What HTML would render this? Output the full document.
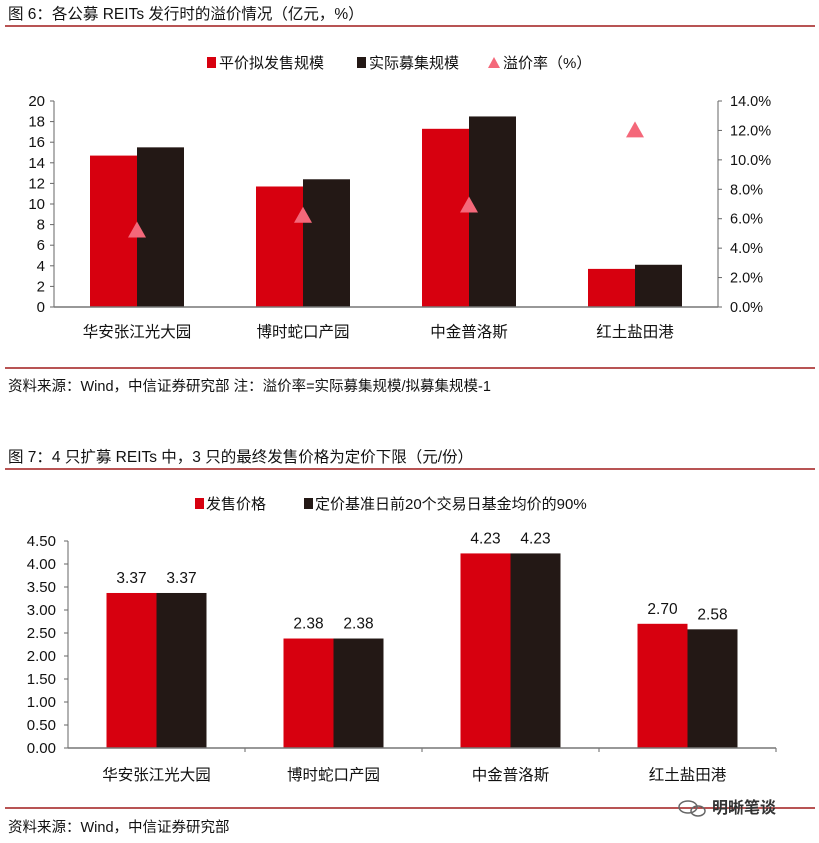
<!DOCTYPE html>
<html><head><meta charset="utf-8"><style>
body{margin:0;background:#fff;width:819px;height:843px;overflow:hidden;font-family:"Liberation Sans","Noto Sans CJK SC",sans-serif;}
svg{position:absolute;left:0;top:0;}
text{font-family:"Liberation Sans","Noto Sans CJK SC",sans-serif;fill:#111;}
</style></head><body>
<svg id="s" width="819" height="843">
<text x="8" y="19" font-size="15.5">图 6：各公募 REITs 发行时的溢价情况（亿元，%）</text>
<line x1="5" y1="26" x2="815" y2="26" stroke="#a01c1c" stroke-width="1.5"/>
<g>
<rect x="207" y="57" width="9" height="11" fill="#d7000f"/><text x="219" y="68" font-size="15">平价拟发售规模</text>
<rect x="357" y="57" width="9" height="11" fill="#231815"/><text x="369" y="68" font-size="15">实际募集规模</text>
<polygon points="494,57 500,68 488,68" fill="#f4687a"/><text x="503" y="68" font-size="15">溢价率（%）</text>
</g>
<g id="c1"></g>
<line x1="5" y1="368" x2="815" y2="368" stroke="#a01c1c" stroke-width="1.5"/>
<text x="8" y="391" font-size="14.5">资料来源：Wind，中信证券研究部 注：溢价率=实际募集规模/拟募集规模-1</text>
<text x="8" y="462" font-size="15.5">图 7：4 只扩募 REITs 中，3 只的最终发售价格为定价下限（元/份）</text>
<line x1="5" y1="469" x2="815" y2="469" stroke="#a01c1c" stroke-width="1.5"/>
<g>
<rect x="195" y="498" width="9" height="11" fill="#d7000f"/><text x="206" y="509" font-size="15">发售价格</text>
<rect x="304" y="498" width="9" height="11" fill="#231815"/><text x="315" y="509" font-size="15">定价基准日前20个交易日基金均价的90%</text>
</g>
<g id="c2"></g>
<line x1="5" y1="808" x2="815" y2="808" stroke="#a01c1c" stroke-width="1.5"/>
<text x="8" y="832" font-size="14.5">资料来源：Wind，中信证券研究部</text>
<g>
<ellipse cx="688" cy="807" rx="9" ry="6" fill="none" stroke="#666" stroke-width="1.5"/>
<ellipse cx="698" cy="811" rx="7" ry="5" fill="none" stroke="#666" stroke-width="1.5"/>
<text x="712" y="813" font-size="16" font-weight="bold" style="fill:#333">明晰笔谈</text>
</g>
</svg>
<script>
const cats=["华安张江光大园","博时蛇口产园","中金普洛斯","红土盐田港"];
const plan=[14.7,11.7,17.3,3.7];
const actual=[15.5,12.4,18.5,4.1];
const premium=[5.2,6.2,6.9,12.0];
const leftTicks=[0,2,4,6,8,10,12,14,16,18,20];
const rightTicks=[0,2,4,6,8,10,12,14];
const cats2=["华安张江光大园","博时蛇口产园","中金普洛斯","红土盐田港"];
const price=[3.37,2.38,4.23,2.70];
const floorPrice=[3.37,2.38,4.23,2.58];
const ticks2=[0,0.5,1,1.5,2,2.5,3,3.5,4,4.5];
const NS="http://www.w3.org/2000/svg";
function mk(p,t,a,txt){const e=document.createElementNS(NS,t);for(const k in a)e.setAttribute(k,a[k]);if(txt!==undefined)e.textContent=txt;p.appendChild(e);return e;}
// chart 1
const g1=document.getElementById('c1');
const x0=54,x1=718,yb=307,yt=101;
const yL=v=>yb-(v/20)*(yb-yt), yR=v=>yb-(v/14)*(yb-yt);
const bw1=(x1-x0)/cats.length;
mk(g1,'line',{x1:x0,y1:yt,x2:x0,y2:yb,stroke:'#666'});
mk(g1,'line',{x1:x1,y1:yt,x2:x1,y2:yb,stroke:'#666'});
leftTicks.forEach(t=>{mk(g1,'line',{x1:x0-4,y1:yL(t),x2:x0,y2:yL(t),stroke:'#666'});
const e=mk(g1,'text',{x:x0-9,y:yL(t)+5,'font-size':15,'text-anchor':'end'},t);
});
rightTicks.forEach(t=>{mk(g1,'line',{x1:x1,y1:yR(t),x2:x1+4,y2:yR(t),stroke:'#666'});
const e=mk(g1,'text',{x:x1+12,y:yR(t)+5,'font-size':14.5},t.toFixed(1)+'%');
});
cats.forEach((c,i)=>{const cx=x0+bw1*(i+0.5);
let r=mk(g1,'rect',{x:cx-47,y:yL(plan[i]),width:47,height:yb-yL(plan[i]),fill:'#d7000f'});

r=mk(g1,'rect',{x:cx,y:yL(actual[i]),width:47,height:yb-yL(actual[i]),fill:'#231815'});

const py=yR(premium[i]);
r=mk(g1,'polygon',{points:`${cx},${py-9} ${cx+9},${py+7} ${cx-9},${py+7}`,fill:'#f4687a'});

const t=mk(g1,'text',{x:cx,y:yb+30,'font-size':15.5,'text-anchor':'middle'},c);
});
mk(g1,'line',{x1:x0,y1:yb,x2:x1,y2:yb,stroke:'#777','stroke-width':1.5});
// chart 2
const g2=document.getElementById('c2');
const a0=68,a1=776,b0=748,b1=541;
const y2=v=>b0-(v/4.5)*(b0-b1);
const bw2=(a1-a0)/cats2.length;
mk(g2,'line',{x1:a0,y1:b1,x2:a0,y2:b0,stroke:'#666'});
ticks2.forEach(t=>{mk(g2,'line',{x1:a0-4,y1:y2(t),x2:a0,y2:y2(t),stroke:'#666'});
const e=mk(g2,'text',{x:a0-12,y:y2(t)+5,'font-size':15,'text-anchor':'end'},t.toFixed(2));
});
for(let i=1;i<=cats2.length;i++){mk(g2,'line',{x1:a0+bw2*i,y1:b0,x2:a0+bw2*i,y2:b0+4,stroke:'#666'});}
cats2.forEach((c,i)=>{const cx=a0+bw2*(i+0.5);
let r=mk(g2,'rect',{x:cx-50,y:y2(price[i]),width:50,height:b0-y2(price[i]),fill:'#d7000f'});

r=mk(g2,'rect',{x:cx,y:y2(floorPrice[i]),width:50,height:b0-y2(floorPrice[i]),fill:'#231815'});

let t=mk(g2,'text',{x:cx-25,y:y2(price[i])-10,'font-size':15.5,'text-anchor':'middle'},price[i].toFixed(2));

t=mk(g2,'text',{x:cx+25,y:y2(floorPrice[i])-10,'font-size':15.5,'text-anchor':'middle'},floorPrice[i].toFixed(2));

t=mk(g2,'text',{x:cx,y:b0+32,'font-size':15.5,'text-anchor':'middle'},c);
});
mk(g2,'line',{x1:a0,y1:b0,x2:a1,y2:b0,stroke:'#777','stroke-width':1.5});
</script>
</body></html>
